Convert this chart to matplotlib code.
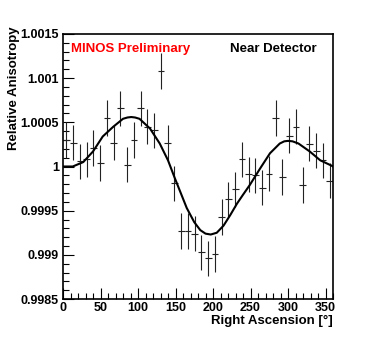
import numpy as np
import matplotlib
matplotlib.use("Agg")
import matplotlib.pyplot as plt
from matplotlib.ticker import MultipleLocator, FixedFormatter, FixedLocator

plt.rcParams['font.family'] = ['Liberation Sans', 'DejaVu Sans']
plt.rcParams['font.weight'] = 'bold'

# data points, 9 degree bins
ra_bins = [4.5, 13.5, 22.5, 31.5, 40.5, 49.5, 58.5, 67.5, 76.5, 85.5,
           94.5, 103.5, 112.5, 121.5, 130.5, 139.5, 148.5, 157.5, 166.5, 175.5,
           184.5, 193.5, 202.5, 211.5, 220.5, 229.5, 238.5, 247.5, 256.5, 265.5,
           274.5, 283.5, 292.5, 301.5, 310.5, 319.5, 328.5, 337.5, 346.5, 355.5]
anisotropy = [1.00030, 1.00027, 1.00006, 1.00008, 1.00021, 1.00004, 1.00055, 1.00027, 1.00066, 1.00002,
              1.00030, 1.00066, 1.00045, 1.00041, 1.00108, 1.00027, 0.99981, 0.99927, 0.99927, 0.99924,
              0.99903, 0.99896, 0.99901, 0.99943, 0.99963, 0.99974, 1.00008, 0.99991, 0.99990, 0.99976,
              0.99992, 1.00055, 0.99988, 1.00035, 1.00045, 0.99979, 1.00026, 1.00018, 1.00007, 0.99984]
anis_err = [0.0002] * 40
bin_half = [4.5] * 40

# fit curve
fit_ra = [0, 13, 27, 40, 53, 67, 80, 86, 91, 96, 102, 116, 129, 140, 149, 157, 165, 175, 183,
          190, 197, 205, 214, 223, 232, 240, 249, 263, 276, 289, 295, 300, 306, 314, 329, 343, 358, 360]
fit_val = [1.00000, 1.00000, 1.00005, 1.00017, 1.00034, 1.00045, 1.00054, 1.000555, 1.00056, 1.000555,
           1.00054, 1.00043, 1.00026, 1.00007, 0.99987, 0.99970, 0.99953, 0.99937, 0.99928,
           0.99924, 0.99923, 0.99925, 0.99933, 0.99945, 0.99958, 0.99968, 0.99979, 0.99998, 1.00015,
           1.00026, 1.000285, 1.00029, 1.000285, 1.00026, 1.00017, 1.00007, 1.00001, 1.00000]

ytick_vals = [0.9985, 0.999, 0.9995, 1.0, 1.0005, 1.001, 1.0015]
ytick_labels = ['0.9985', '0.999', '0.9995', '1', '1.0005', '1.001', '1.0015']

fig = plt.figure(figsize=(3.71, 3.52), dpi=100)
ax = fig.add_axes([63/371, 53/352, 270/371, 265/352])

ax.errorbar(ra_bins, anisotropy, yerr=anis_err, xerr=bin_half, fmt='none',
            ecolor='#222222', elinewidth=0.8, capsize=0)
ax.plot(fit_ra, fit_val, color='black', lw=1.5)

ax.set_xlim(0, 360)
ax.set_ylim(0.9985, 1.0015)
ax.xaxis.set_major_locator(MultipleLocator(50))
ax.xaxis.set_minor_locator(MultipleLocator(10))
ax.yaxis.set_major_locator(FixedLocator(ytick_vals))
ax.yaxis.set_major_formatter(FixedFormatter(ytick_labels))
ax.yaxis.set_minor_locator(MultipleLocator(0.0001))
ax.tick_params(which='both', direction='in', top=False, right=False, labelsize=9, width=0.8)
ax.tick_params(which='major', length=8)
ax.tick_params(which='minor', length=4)
ax.tick_params(axis='x', pad=2)
ax.tick_params(axis='y', pad=3)
for lab in ax.get_xticklabels() + ax.get_yticklabels():
    lab.set_fontweight('bold')
for s in ax.spines.values():
    s.set_linewidth(1.2)

ax.set_xlabel('Right Ascension [°]', fontsize=9.5, fontweight='bold', loc='right', labelpad=1)
ax.set_ylabel('Relative Anisotropy', fontsize=9.5, fontweight='bold', loc='top')
ax.yaxis.set_label_coords(-0.16, 1.03)

ax.text(0.03, 0.945, 'MINOS Preliminary', color='red', fontsize=9.5, fontweight='bold',
        transform=ax.transAxes, va='center', ha='left')
ax.text(0.94, 0.945, 'Near Detector', color='black', fontsize=9.5, fontweight='bold',
        transform=ax.transAxes, va='center', ha='right')

fig.savefig('out.png', dpi=100)
